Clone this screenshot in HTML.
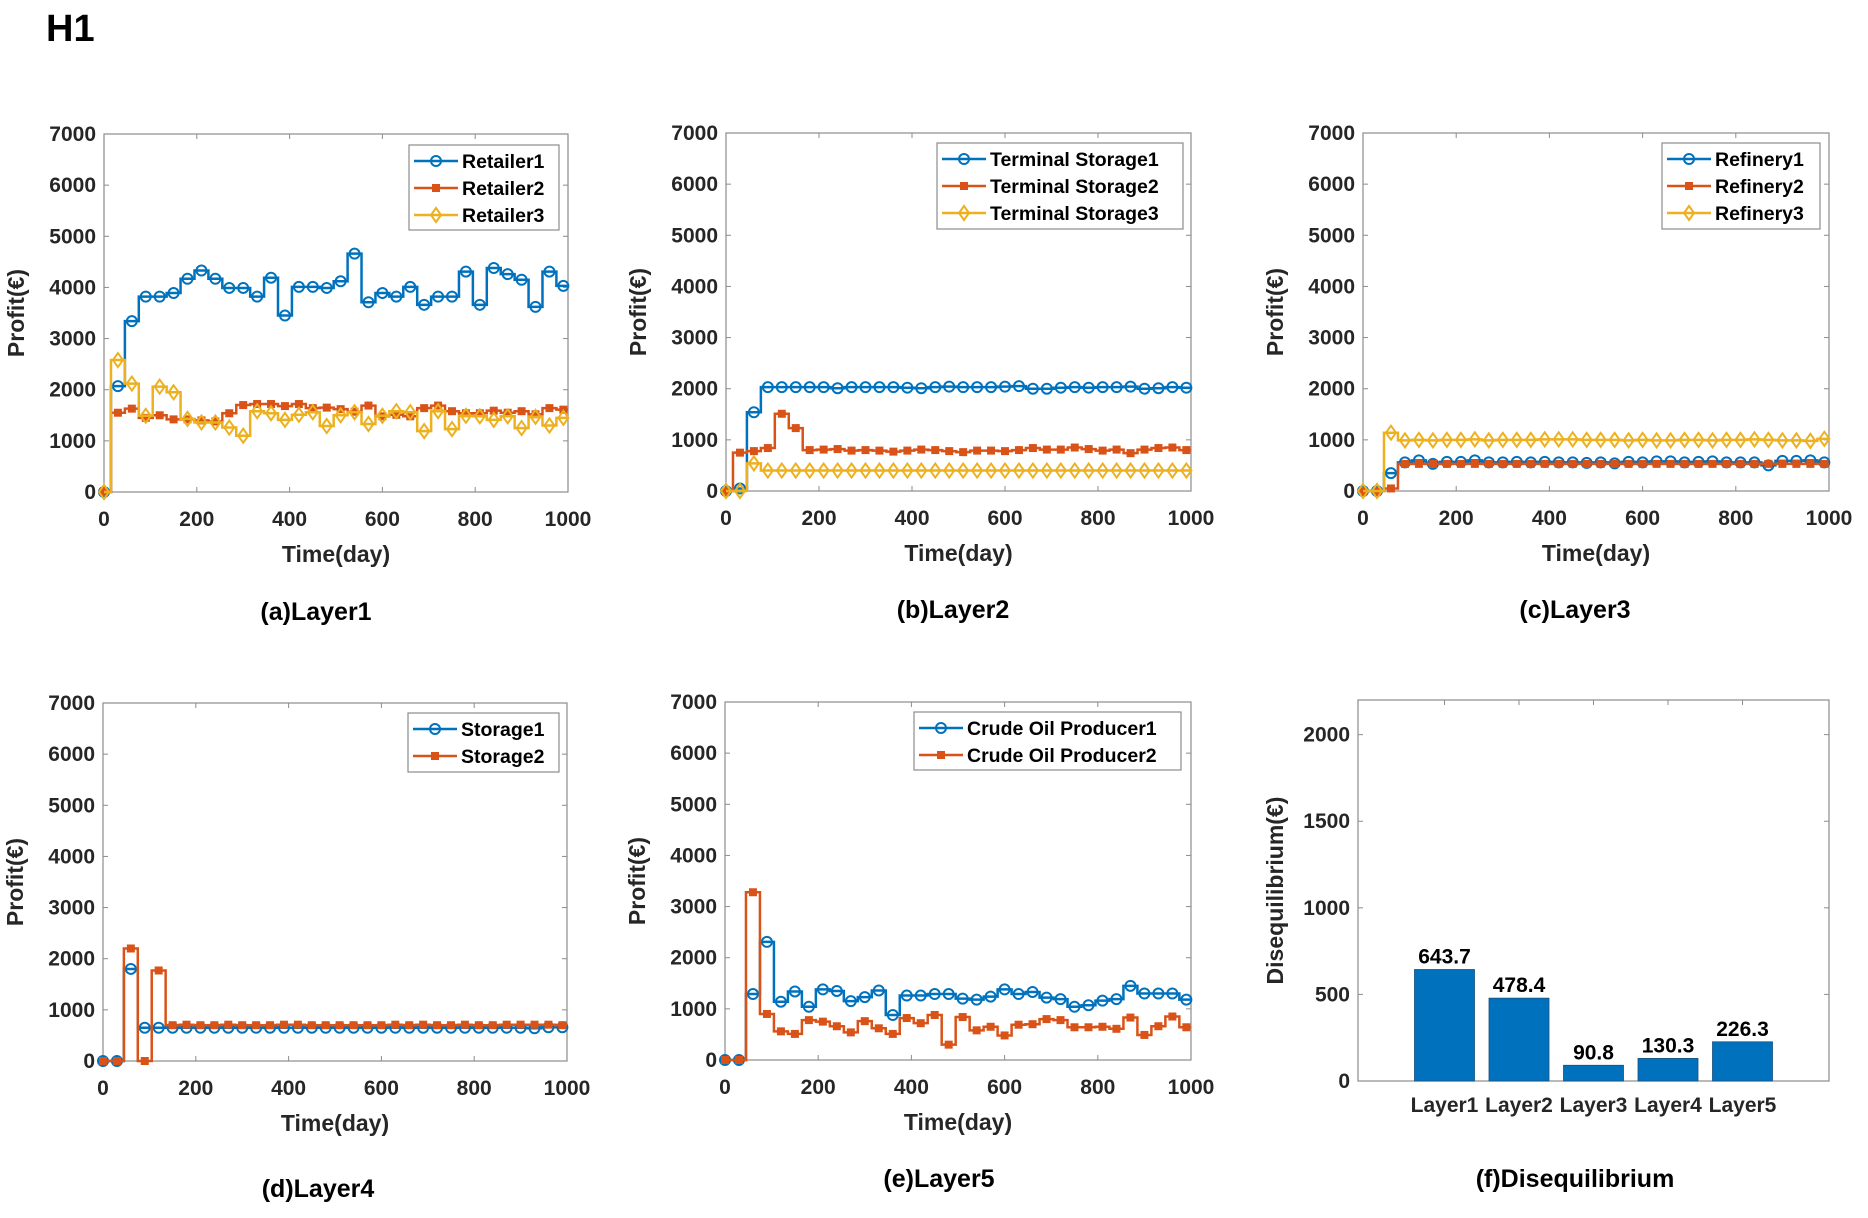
<!DOCTYPE html>
<html><head><meta charset="utf-8"><style>
html,body{margin:0;padding:0;background:#fff}
svg{display:block}
text{font-family:"Liberation Sans",Arial,sans-serif}
</style></head><body>
<svg id="fig" width="1868" height="1218" viewBox="0 0 1868 1218" xmlns="http://www.w3.org/2000/svg">
<rect width="1868" height="1218" fill="#fff"/>
<text x="46" y="41" font-size="38" font-weight="bold" fill="#000">H1</text>
</svg>
<script>
const days = [0,30,60,90,120,150,180,210,240,270,300,330,360,390,420,450,480,510,540,570,600,630,660,690,720,750,780,810,840,870,900,930,960,990];
const yTicks = [0,1000,2000,3000,4000,5000,6000,7000];
const xTicks = [0,200,400,600,800,1000];

const retailer1 = [0,2070,3340,3820,3820,3890,4170,4330,4170,3990,3990,3820,4190,3450,4010,4010,3990,4120,4660,3710,3890,3820,4010,3660,3820,3820,4310,3660,4380,4260,4150,3620,4310,4030];
const retailer2 = [0,1550,1630,1450,1500,1420,1420,1400,1380,1540,1700,1720,1720,1680,1720,1640,1650,1620,1570,1690,1480,1510,1480,1640,1690,1580,1540,1540,1590,1550,1580,1520,1640,1610];
const retailer3 = [0,2580,2120,1490,2060,1950,1430,1360,1360,1260,1100,1580,1540,1410,1510,1560,1290,1500,1560,1330,1490,1580,1560,1190,1580,1230,1490,1480,1410,1480,1250,1470,1300,1450];

const terminal1 = [0,50,1540,2030,2030,2030,2030,2030,2010,2030,2030,2030,2030,2020,2010,2030,2040,2030,2030,2030,2040,2050,2000,2000,2020,2030,2020,2030,2030,2040,2000,2010,2030,2020];
const terminal2 = [0,750,780,840,1510,1230,800,810,820,790,800,790,770,790,810,800,780,760,790,790,780,800,840,810,810,850,820,790,810,740,810,840,850,800];
const terminal3 = [0,0,540,400,400,400,400,400,400,400,400,400,400,400,400,400,400,400,400,400,400,400,400,400,400,400,400,400,400,400,400,400,400,400];

const refinery1 = [0,0,350,560,600,530,570,570,600,560,560,570,560,570,560,560,550,560,540,570,560,580,580,560,570,580,560,560,560,500,590,590,600,560];
const refinery2 = [0,0,50,530,530,530,530,530,530,530,530,530,530,530,530,530,530,530,530,530,530,530,530,530,530,530,530,530,530,530,530,530,530,530];
const refinery3 = [0,0,1140,990,1000,990,1000,1000,1010,990,1000,1000,1000,1010,1010,1010,1000,1000,1000,990,1000,990,990,1000,1000,990,1000,1000,1010,1000,990,990,980,1020];

const storage1 = [0,0,1800,650,650,650,650,650,650,650,650,650,650,650,650,650,650,650,650,650,650,650,650,650,650,650,650,650,650,650,650,640,660,660];
const storage2 = [0,0,2200,0,1770,700,710,700,700,710,700,700,700,710,710,700,700,700,700,700,700,710,700,710,700,700,710,700,700,710,710,710,710,700];

const producer1 = [0,0,1290,2310,1140,1340,1040,1380,1350,1150,1230,1360,880,1260,1260,1290,1290,1200,1180,1240,1380,1290,1330,1220,1190,1040,1070,1160,1190,1450,1300,1300,1300,1180];
const producer2 = [0,0,3280,900,560,510,780,750,660,540,760,620,510,820,720,880,300,840,580,650,480,690,700,800,780,640,640,650,610,830,490,660,850,640];

const barCategories = ["Layer1","Layer2","Layer3","Layer4","Layer5"];
const barValues = [643.7,478.4,90.8,130.3,226.3];
const barLabels = ["643.7","478.4","90.8","130.3","226.3"];
const barTicks = [0,500,1000,1500,2000];

const NS = "http://www.w3.org/2000/svg";
const svg = document.getElementById('fig');
const C = {blue:"#0072BD", orange:"#D95319", yellow:"#EDB120"};
function mk(tag, attrs, parent){
  const e = document.createElementNS(NS, tag);
  for (const k in attrs) e.setAttribute(k, attrs[k]);
  (parent||svg).appendChild(e);
  return e;
}
function marker(g, kind, color, cx, cy){
  let m;
  if (kind==='o') m = mk('circle',{cx:cx,cy:cy,r:5,fill:'none',stroke:color,'stroke-width':2},g);
  else if (kind==='s') m = mk('rect',{x:cx-3.5,y:cy-3.5,width:7,height:7,fill:color,stroke:color,'stroke-width':1},g);
  else m = mk('polygon',{points:`${cx},${cy-7} ${cx+5},${cy} ${cx},${cy+7} ${cx-5},${cy}`,fill:'none',stroke:color,'stroke-width':2},g);
  return m;
}

function linePanel(p){
  const g = mk('g',{});
  
  
  const {L,R,T,B} = p;
  const xs = t => L + Math.max(0,Math.min(1000,t))/1000*(R-L);
  const ys = v => B - v/7000*(B-T);
  const box = mk('rect',{x:L,y:T,width:R-L,height:B-T,fill:'#fff',stroke:'#8c8c8c','stroke-width':1.2},g);
  
  
  yTicks.forEach(v=>{
    const y = ys(v);
    mk('line',{x1:L,x2:L+5,y1:y,y2:y,stroke:'#8c8c8c'},g);
    mk('line',{x1:R,x2:R-5,y1:y,y2:y,stroke:'#8c8c8c'},g);
    const t = mk('text',{x:L-8,y:y+7,'text-anchor':'end','font-size':21,'font-weight':'bold',fill:'#262626'},g);
    t.textContent = v;
    
    
  });
  xTicks.forEach(v=>{
    const x = xs(v);
    mk('line',{x1:x,x2:x,y1:B,y2:B-5,stroke:'#8c8c8c'},g);
    mk('line',{x1:x,x2:x,y1:T,y2:T+5,stroke:'#8c8c8c'},g);
    const t = mk('text',{x:x,y:B+34,'text-anchor':'middle','font-size':21,'font-weight':'bold',fill:'#262626'},g);
    t.textContent = v;
    
    
  });
  const xl = mk('text',{x:(L+R)/2,y:B+70,'text-anchor':'middle','font-size':23,'font-weight':'bold',fill:'#262626'},g);
  xl.textContent = 'Time(day)';
  
  
  const yc = (T+B)/2;
  const yl = mk('text',{x:L-80,y:yc,'text-anchor':'middle','font-size':23,'font-weight':'bold',fill:'#262626',transform:`rotate(-90 ${L-80} ${yc})`},g);
  yl.textContent = 'Profit(€)';
  
  
  p.series.forEach(s=>{
    const sg = mk('g',{},g);
    
    
    let d = '';
    s.values.forEach((v,i)=>{
      const x0 = xs(days[i]-15), x1 = xs(i===days.length-1 ? 1000 : days[i]+15);
      d += (i===0 ? `M${x0},${ys(v)}` : `L${x0},${ys(v)}`) + `L${x1},${ys(v)}`;
    });
    mk('path',{d:d,fill:'none',stroke:s.color,'stroke-width':2.5},sg);
    s.values.forEach((v,i)=>{
      const m = marker(sg, s.kind, s.color, xs(days[i]), ys(v));
      
      
    });
  });
  const lg = mk('g',{},g);
  
  
  const lb = p.legend;
  mk('rect',{x:lb.x,y:lb.y,width:lb.w,height:lb.h,fill:'#fff',stroke:'#8c8c8c','stroke-width':1.2},lg);
  p.series.forEach((s,i)=>{
    const ey = lb.y + 16 + i*27;
    const eg = mk('g',{},lg);
    
    
    mk('line',{x1:lb.x+5,x2:lb.x+49,y1:ey,y2:ey,stroke:s.color,'stroke-width':2.5},eg);
    marker(eg, s.kind, s.color, lb.x+27, ey);
    const t = mk('text',{x:lb.x+53,y:ey+7,'font-size':19.5,'font-weight':'bold',fill:'#000'},eg);
    t.textContent = s.label;
  });
  const cap = mk('text',{x:p.capX,y:p.capY,'text-anchor':'middle','font-size':25,'font-weight':'bold',fill:'#000'});
  cap.textContent = p.caption;
  
  
}

linePanel({name:'panel-a-layer1',L:104,R:568,T:134,B:492,capX:316,capY:620,caption:'(a)Layer1',
  legend:{x:409,y:145,w:150,h:85},
  series:[{label:'Retailer1',values:retailer1,color:C.blue,kind:'o'},
          {label:'Retailer2',values:retailer2,color:C.orange,kind:'s'},
          {label:'Retailer3',values:retailer3,color:C.yellow,kind:'d'}]});
linePanel({name:'panel-b-layer2',L:726,R:1191,T:133,B:491,capX:953,capY:618,caption:'(b)Layer2',
  legend:{x:937,y:143,w:246,h:86},
  series:[{label:'Terminal Storage1',values:terminal1,color:C.blue,kind:'o'},
          {label:'Terminal Storage2',values:terminal2,color:C.orange,kind:'s'},
          {label:'Terminal Storage3',values:terminal3,color:C.yellow,kind:'d'}]});
linePanel({name:'panel-c-layer3',L:1363,R:1829,T:133,B:491,capX:1575,capY:618,caption:'(c)Layer3',
  legend:{x:1662,y:143,w:158,h:86},
  series:[{label:'Refinery1',values:refinery1,color:C.blue,kind:'o'},
          {label:'Refinery2',values:refinery2,color:C.orange,kind:'s'},
          {label:'Refinery3',values:refinery3,color:C.yellow,kind:'d'}]});
linePanel({name:'panel-d-layer4',L:103,R:567,T:703,B:1061,capX:318,capY:1197,caption:'(d)Layer4',
  legend:{x:408,y:713,w:151,h:59},
  series:[{label:'Storage1',values:storage1,color:C.blue,kind:'o'},
          {label:'Storage2',values:storage2,color:C.orange,kind:'s'}]});
linePanel({name:'panel-e-layer5',L:725,R:1191,T:702,B:1060,capX:939,capY:1187,caption:'(e)Layer5',
  legend:{x:914,y:712,w:267,h:58},
  series:[{label:'Crude Oil Producer1',values:producer1,color:C.blue,kind:'o'},
          {label:'Crude Oil Producer2',values:producer2,color:C.orange,kind:'s'}]});

(function(){
  const L=1358,R=1829,T=700,B=1081,YMAX=2200;
  const g = mk('g',{});
  
  
  const ys = v => B - v/YMAX*(B-T);
  const step = 74.5, bw = 60;
  const xc = i => (L+R)/2 + (i-(barCategories.length-1)/2)*step;
  mk('rect',{x:L,y:T,width:R-L,height:B-T,fill:'#fff',stroke:'#8c8c8c','stroke-width':1.2},g);
  barTicks.forEach(v=>{
    const y = ys(v);
    mk('line',{x1:L,x2:L+5,y1:y,y2:y,stroke:'#8c8c8c'},g);
    mk('line',{x1:R,x2:R-5,y1:y,y2:y,stroke:'#8c8c8c'},g);
    const t = mk('text',{x:L-8,y:y+7,'text-anchor':'end','font-size':21,'font-weight':'bold',fill:'#262626'},g);
    t.textContent = v;
    
    
  });
  barCategories.forEach((c,i)=>{
    const x = xc(i);
    mk('line',{x1:x,x2:x,y1:T,y2:T+5,stroke:'#8c8c8c'},g);
    const b = mk('rect',{x:x-bw/2,y:ys(barValues[i]),width:bw,height:B-ys(barValues[i]),fill:'#0072BD',stroke:'#1a4f80','stroke-width':0.8},g);
    
    
    const vl = mk('text',{x:x,y:ys(barValues[i])-6,'text-anchor':'middle','font-size':21,'font-weight':'bold',fill:'#000'},g);
    vl.textContent = barLabels[i];
    
    
    const cl = mk('text',{x:x,y:B+31,'text-anchor':'middle','font-size':21,'font-weight':'bold',fill:'#262626'},g);
    cl.textContent = c;
    
    
  });
  const yc=(T+B)/2;
  const yl = mk('text',{x:1283,y:yc,'text-anchor':'middle','font-size':23,'font-weight':'bold',fill:'#262626',transform:`rotate(-90 1283 ${yc})`},g);
  yl.textContent='Disequilibrium(€)';
  
  
  const cap = mk('text',{x:1575,y:1187,'text-anchor':'middle','font-size':25,'font-weight':'bold',fill:'#000'});
  cap.textContent='(f)Disequilibrium';
  
  
})();
</script>
</body></html>
